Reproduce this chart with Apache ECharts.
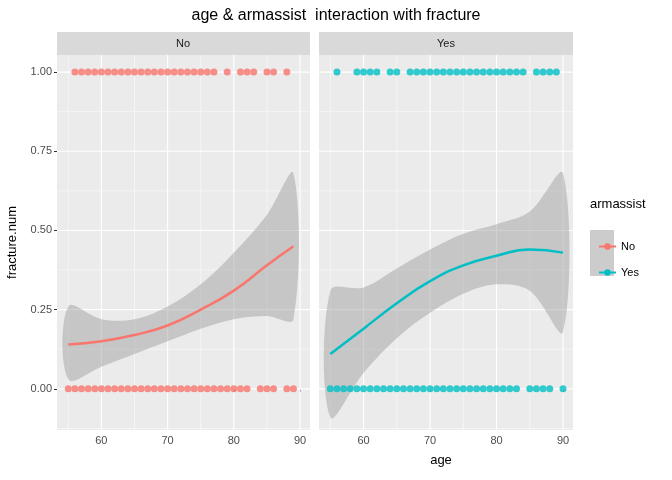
<!DOCTYPE html>
<html><head><meta charset="utf-8">
<script src="https://cdn.jsdelivr.net/npm/echarts@6/dist/echarts.min.js"></script>
<style>html,body{margin:0;padding:0;background:#fff}#c{width:672px;height:480px}</style>
</head><body><div id="c"></div>
<script>
const noOnes = [56,57,58,59,60,61,62,63,64,65,66,67,68,69,70,71,72,73,74,75,76,77,79,81,82,83,85,86,88];
const noZeros = [55,56,57,58,59,60,61,62,63,64,65,66,67,68,69,70,71,72,73,74,75,76,77,78,79,80,81,82,84,85,86,88,89];
const yesOnes = [56,59,60,61,62,64,65,67,68,69,70,71,72,73,74,75,76,77,78,79,80,81,82,83,84,86,87,88,89];
const yesZeros = [55,56,57,58,59,60,61,62,63,64,65,66,67,68,69,70,71,72,73,74,75,76,77,78,79,80,81,82,83,85,86,87,88,90];
const fitAgeNo = [55,60,65,70,75,80,85,89];
const fitNo = [0.14,0.15,0.17,0.20,0.25,0.31,0.39,0.45];
const loNo = [0.03,0.07,0.11,0.15,0.19,0.22,0.23,0.22];
const hiNo = [0.26,0.22,0.22,0.26,0.33,0.43,0.55,0.68];
const fitAgeYes = [55,60,65,70,75,80,85,90];
const fitYes = [0.11,0.19,0.27,0.34,0.39,0.42,0.44,0.43];
const loYes = [-0.09,0.05,0.16,0.24,0.30,0.33,0.31,0.18];
const hiYes = [0.31,0.32,0.38,0.44,0.49,0.52,0.56,0.68];
const xTicks = [60,70,80,90];
const xMinor = [55,65,75,85];
const yTicks = [0,0.25,0.5,0.75,1];
const yMinor = [-0.125,0.125,0.375,0.625,0.875];
const C = {No:'#F8766D', Yes:'#00BFC4'};

const chart = echarts.init(document.getElementById('c'));
const X0=53.3, X1=91.5, Y0=-0.13, Y1=1.054;
const grids=[{left:57,width:253,top:55,bottom:50,show:true,backgroundColor:'#EBEBEB',borderWidth:0},
             {left:319,width:254,top:55,bottom:50,show:true,backgroundColor:'#EBEBEB',borderWidth:0}];
const xAxes=[0,1].map(i=>({type:'value',gridIndex:i,min:X0,max:X1,splitLine:{show:false},
  axisLine:{show:false},axisTick:{show:true,length:3,lineStyle:{color:'#333'},customValues:xTicks},
  axisLabel:{customValues:xTicks,color:'#4D4D4D',fontSize:11,margin:5}}));
xAxes[0].name='age';xAxes[0].nameLocation='middle';xAxes[0].nameGap=24;
xAxes[0].nameTextStyle={fontSize:13,color:'#000',padding:[0,0,0,515]};
const yAxes=[0,1].map(i=>({type:'value',gridIndex:i,min:Y0,max:Y1,splitLine:{show:false},axisLine:{show:false},
  axisTick:{show:i===0,length:3,lineStyle:{color:'#333'},customValues:yTicks},
  axisLabel:{show:i===0,customValues:yTicks,color:'#4D4D4D',fontSize:11,margin:5,formatter:v=>v.toFixed(2)}}));
yAxes[0].name='fracture.num';yAxes[0].nameLocation='middle';yAxes[0].nameGap=38;
yAxes[0].nameTextStyle={fontSize:13,color:'#000'};

function gridSeries(i){
  const items=[];
  xMinor.forEach(v=>items.push(['x',v,0.5]));
  xTicks.forEach(v=>items.push(['x',v,1.1]));
  yMinor.forEach(v=>items.push(['y',v,0.5]));
  yTicks.forEach(v=>items.push(['y',v,1.1]));
  return {type:'custom',xAxisIndex:i,yAxisIndex:i,silent:true,z:1,data:items.map((d,k)=>[k]),
    renderItem:(p,api)=>{const d=items[api.value(0)];
      let a,b; if(d[0]==='x'){a=api.coord([d[1],Y0]);b=api.coord([d[1],Y1]);}else{a=api.coord([X0,d[1]]);b=api.coord([X1,d[1]]);}
      return {type:'line',shape:{x1:a[0],y1:a[1],x2:b[0],y2:b[1]},style:{stroke:'#fff',lineWidth:d[2]}};}};
}
function ribbon(i,ag,lo,hi){
  return {type:'custom',xAxisIndex:i,yAxisIndex:i,silent:true,z:2,data:[[0]],
    renderItem:(p,api)=>{
      const top=ag.map((a,k)=>api.coord([a,hi[k]]));
      const bot=ag.map((a,k)=>api.coord([a,lo[k]])).reverse();
      return {type:'group',children:[{type:'polygon',shape:{points:top.concat(bot),smooth:0.35},style:{fill:'rgba(153,153,153,0.45)'}}]};}};
}
const series=[];
[[0,fitAgeNo,fitNo,loNo,hiNo,'No',noOnes,noZeros],[1,fitAgeYes,fitYes,loYes,hiYes,'Yes',yesOnes,yesZeros]].forEach(([i,ag,f,lo,hi,nm,ones,zeros])=>{
  series.push(gridSeries(i));
  series.push(ribbon(i,ag,lo,hi));
  series.push({type:'scatter',xAxisIndex:i,yAxisIndex:i,symbolSize:7,itemStyle:{color:C[nm]},data:ones.map(a=>[a,1]).concat(zeros.map(a=>[a,0])),z:3});
  series.push({name:nm,type:'line',xAxisIndex:i,yAxisIndex:i,smooth:true,symbol:'circle',symbolSize:7,showSymbol:false,lineStyle:{width:2.5,color:C[nm]},itemStyle:{color:C[nm]},data:ag.map((a,k)=>[a,f[k]]),z:4});
});
chart.setOption({
  animation:false,
  title:{text:'age & armassist  interaction with fracture',left:'center',top:3,textStyle:{fontSize:16,fontWeight:'normal',color:'#000'}},
  grid:grids,xAxis:xAxes,yAxis:yAxes,series:series,
  legend:{data:['No','Yes'],orient:'vertical',left:593,top:236,itemWidth:17,itemHeight:8,itemGap:15,textStyle:{fontSize:11,color:'#000'}},
  graphic:[
    {type:'rect',shape:{x:57,y:32,width:253,height:23},style:{fill:'#D9D9D9'}},
    {type:'rect',shape:{x:319,y:32,width:254,height:23},style:{fill:'#D9D9D9'}},
    {type:'text',x:183,y:44,style:{text:'No',fontSize:11,fill:'#1A1A1A',align:'center',verticalAlign:'middle'}},
    {type:'text',x:446,y:44,style:{text:'Yes',fontSize:11,fill:'#1A1A1A',align:'center',verticalAlign:'middle'}},
    {type:'text',x:590,y:198,style:{text:'armassist',fontSize:13,fill:'#000'}},
    {type:'rect',z:-1,shape:{x:590,y:230,width:24,height:46},style:{fill:'#CCCCCC'}}
  ]
});
</script></body></html>
